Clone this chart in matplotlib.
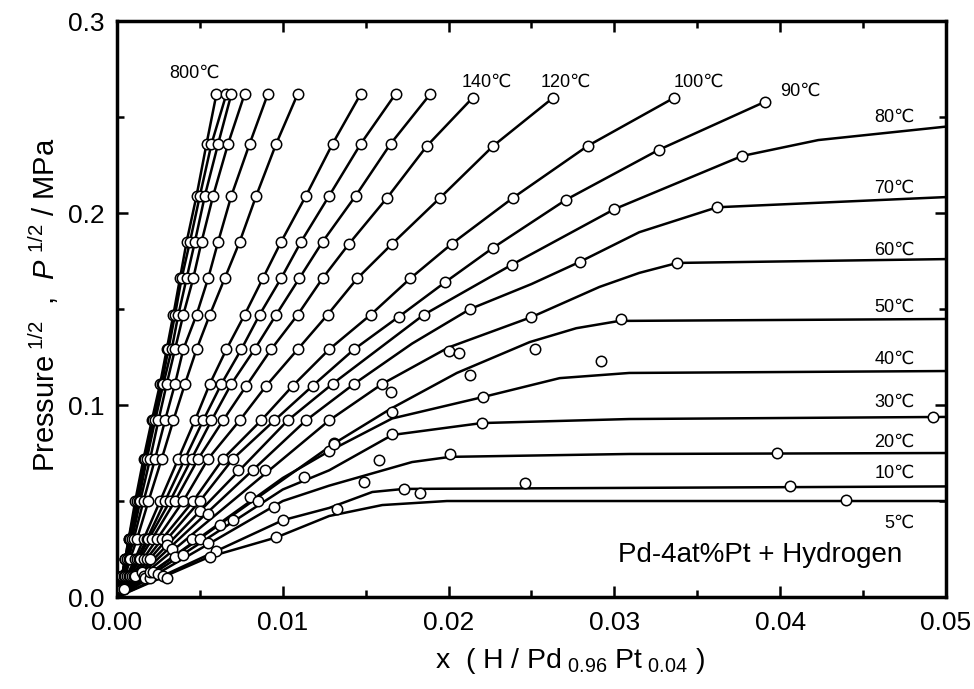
import matplotlib
matplotlib.use('Agg')
import matplotlib.pyplot as plt
from matplotlib.ticker import MultipleLocator

plt.rcParams.update({
    'font.family': ['Liberation Sans', 'DejaVu Sans'],
    'font.size': 20,
    'mathtext.fontset': 'custom',
    'mathtext.rm': 'Liberation Sans',
    'mathtext.it': 'Liberation Sans:italic',
    'mathtext.bf': 'Liberation Sans:bold',
})

# --- pressure steps shared by the high temperature runs ---
LEVELS_HI = [0.262, 0.236, 0.209, 0.185, 0.166, 0.147, 0.129, 0.111,
             0.092, 0.072, 0.050, 0.030, 0.020, 0.011, 0.004]
LEVELS_MID = [0.260, 0.235, 0.208, 0.184, 0.166, 0.147, 0.129, 0.110,
              0.092, 0.072, 0.050, 0.030, 0.020, 0.011, 0.004]
LEVELS_90 = [0.258, 0.233, 0.207, 0.182, 0.164, 0.146, 0.129, 0.110,
             0.092, 0.072, 0.050, 0.030, 0.020, 0.011, 0.004]

# x (H/M) at those steps, steep isotherms from 800C down to 90C
X_800 = [0.0060, 0.0054, 0.0048, 0.0042, 0.0038, 0.0034, 0.0030, 0.0026,
         0.0021, 0.0016, 0.0011, 0.0007, 0.0005, 0.0003, 0.0001]
X_T2 = [0.0066, 0.0057, 0.0050, 0.0044, 0.0039, 0.0035, 0.0031, 0.0027,
        0.0022, 0.0017, 0.0012, 0.0007, 0.0005, 0.0003, 0.0001]
X_T3 = [0.0069, 0.0061, 0.0053, 0.0047, 0.0042, 0.0037, 0.0033, 0.0028,
        0.0023, 0.0018, 0.0013, 0.0008, 0.0005, 0.0003, 0.0001]
X_T4 = [0.0077, 0.0067, 0.0058, 0.0051, 0.0046, 0.0040, 0.0035, 0.0030,
        0.0025, 0.0020, 0.0014, 0.0009, 0.0006, 0.0003, 0.0001]
X_T5 = [0.0091, 0.0080, 0.0069, 0.0061, 0.0055, 0.0048, 0.0040, 0.0035,
        0.0029, 0.0023, 0.0016, 0.0010, 0.0007, 0.0004, 0.0002]
X_T6 = [0.0109, 0.0096, 0.0084, 0.0074, 0.0065, 0.0056, 0.0048, 0.0041,
        0.0034, 0.0027, 0.0019, 0.0012, 0.0008, 0.0005, 0.0002]
X_T7 = [0.0147, 0.0130, 0.0114, 0.0099, 0.0088, 0.0077, 0.0066, 0.0056,
        0.0047, 0.0037, 0.0026, 0.0016, 0.0011, 0.0006, 0.0002]
X_T8 = [0.0168, 0.0147, 0.0128, 0.0111, 0.0099, 0.0086, 0.0075, 0.0063,
        0.0052, 0.0041, 0.0029, 0.0018, 0.0012, 0.0007, 0.0003]
X_T9 = [0.0189, 0.0165, 0.0144, 0.0124, 0.0110, 0.0096, 0.0083, 0.0069,
        0.0057, 0.0045, 0.0032, 0.0019, 0.0013, 0.0008, 0.0003]
X_140 = [0.02145, 0.0187, 0.0163, 0.0140, 0.0124, 0.0109, 0.0093, 0.0078,
         0.0064, 0.0049, 0.0035, 0.0021, 0.0014, 0.0008, 0.0003]
X_120 = [0.0263, 0.0227, 0.0195, 0.0166, 0.0145, 0.0127, 0.0109, 0.0090,
         0.0074, 0.0055, 0.0040, 0.0024, 0.0016, 0.0009, 0.0003]
X_100 = [0.0336, 0.0284, 0.0239, 0.0202, 0.0177, 0.0153, 0.0128, 0.0106,
         0.0087, 0.0064, 0.0046, 0.0027, 0.0018, 0.0010, 0.0004]
X_90 = [0.0391, 0.0327, 0.0271, 0.0227, 0.0198, 0.0170, 0.0143, 0.0118,
        0.0095, 0.0070, 0.0050, 0.0030, 0.0020, 0.0011, 0.0004]

# --- low temperature isotherms: drawn curve + measured points ---
LINE_80_X = [0, 0.0103, 0.0130, 0.0185, 0.0238, 0.0300, 0.0377, 0.0423, 0.050]
LINE_80_Y = [0, 0.092, 0.111, 0.147, 0.173, 0.202, 0.2297, 0.238, 0.245]
PTS_80_X = [0.0377, 0.0300, 0.0238, 0.0185, 0.0130, 0.0103, 0.0073, 0.0050, 0.0030, 0.0015]
PTS_80_Y = [0.2297, 0.202, 0.173, 0.147, 0.111, 0.092, 0.066, 0.045, 0.027, 0.013]

LINE_70_X = [0, 0.0114, 0.0143, 0.0178, 0.0213, 0.0250, 0.0279, 0.0315, 0.0362, 0.050]
LINE_70_Y = [0, 0.092, 0.111, 0.132, 0.150, 0.163, 0.1745, 0.190, 0.203, 0.2083]
PTS_70_X = [0.0362, 0.0279, 0.0213, 0.0143, 0.0114, 0.0082, 0.0055, 0.0033, 0.0016]
PTS_70_Y = [0.203, 0.1745, 0.150, 0.111, 0.092, 0.066, 0.043, 0.025, 0.011]

LINE_60_X = [0, 0.0128, 0.0160, 0.0200, 0.0250, 0.0291, 0.0315, 0.0338, 0.050]
LINE_60_Y = [0, 0.092, 0.111, 0.130, 0.1458, 0.1615, 0.1688, 0.174, 0.176]
PTS_60_X = [0.0338, 0.0250, 0.0200, 0.0160, 0.0128, 0.0089, 0.0062, 0.0035, 0.0017]
PTS_60_Y = [0.174, 0.1458, 0.128, 0.111, 0.092, 0.066, 0.0375, 0.021, 0.010]

LINE_50_X = [0, 0.0131, 0.0165, 0.0205, 0.0249, 0.0277, 0.0303, 0.050]
LINE_50_Y = [0, 0.080, 0.098, 0.1167, 0.1328, 0.140, 0.1438, 0.1448]
PTS_50_X = [0.0304, 0.0252, 0.0206, 0.0165, 0.0131, 0.0113, 0.0070, 0.0040, 0.0020]
PTS_50_Y = [0.1448, 0.129, 0.127, 0.107, 0.080, 0.0625, 0.040, 0.022, 0.010]

LINE_40_X = [0, 0.0100, 0.0128, 0.0166, 0.0220, 0.0267, 0.0309, 0.050]
LINE_40_Y = [0, 0.062, 0.076, 0.093, 0.104, 0.114, 0.1167, 0.1177]
PTS_40_X = [0.0292, 0.0213, 0.0221, 0.0166, 0.0128, 0.0080, 0.0045, 0.0020]
PTS_40_Y = [0.123, 0.1156, 0.104, 0.0964, 0.076, 0.052, 0.030, 0.013]

LINE_30_X = [0, 0.0100, 0.0128, 0.0166, 0.0220, 0.0309, 0.050]
LINE_30_Y = [0, 0.056, 0.066, 0.0844, 0.0906, 0.0927, 0.0938]
PTS_30_X = [0.0492, 0.0220, 0.0166, 0.0131, 0.0085, 0.0050, 0.0022]
PTS_30_Y = [0.0938, 0.0906, 0.085, 0.0797, 0.050, 0.030, 0.013]

LINE_20_X = [0, 0.0100, 0.0128, 0.0178, 0.0201, 0.0309, 0.050]
LINE_20_Y = [0, 0.050, 0.058, 0.0703, 0.073, 0.0745, 0.075]
PTS_20_X = [0.0398, 0.0201, 0.0158, 0.0149, 0.0095, 0.0055, 0.0025]
PTS_20_Y = [0.075, 0.0745, 0.0713, 0.060, 0.047, 0.028, 0.012]

LINE_10_X = [0, 0.0100, 0.0128, 0.0154, 0.0173, 0.050]
LINE_10_Y = [0, 0.040, 0.0464, 0.0547, 0.0563, 0.0576]
PTS_10_X = [0.0406, 0.0246, 0.0173, 0.0183, 0.0100, 0.0060, 0.0028]
PTS_10_Y = [0.0578, 0.0594, 0.0563, 0.0542, 0.040, 0.024, 0.011]

LINE_5_X = [0, 0.0056, 0.0096, 0.0128, 0.0160, 0.0199, 0.050]
LINE_5_Y = [0, 0.021, 0.031, 0.0422, 0.0479, 0.050, 0.050]
PTS_5_X = [0.0440, 0.0133, 0.0096, 0.0056, 0.0030]
PTS_5_Y = [0.0505, 0.046, 0.031, 0.021, 0.010]

# temperature labels and where they sit
LABELS = ['800℃', '140℃', '120℃', '100℃', '90℃', '80℃', '70℃', '60℃',
          '50℃', '40℃', '30℃', '20℃', '10℃', '5℃']
LABEL_X = [0.0047, 0.0223, 0.0271, 0.0351, 0.0412, 0.0469, 0.0469, 0.0469,
           0.0469, 0.0469, 0.0469, 0.0469, 0.0469, 0.0472]
LABEL_Y = [0.273, 0.268, 0.268, 0.268, 0.2635, 0.250, 0.213, 0.1807,
           0.151, 0.124, 0.1016, 0.0807, 0.0646, 0.0385]

LW = 1.8
MS = 7.5

fig = plt.figure(figsize=(9.74, 6.89), dpi=100)
ax = fig.add_axes([0.1201, 0.1335, 0.8511, 0.836])

hi_runs = [(X_800, LEVELS_HI), (X_T2, LEVELS_HI), (X_T3, LEVELS_HI),
           (X_T4, LEVELS_HI), (X_T5, LEVELS_HI), (X_T6, LEVELS_HI),
           (X_T7, LEVELS_HI), (X_T8, LEVELS_HI), (X_T9, LEVELS_HI),
           (X_140, LEVELS_MID), (X_120, LEVELS_MID), (X_100, LEVELS_MID),
           (X_90, LEVELS_90)]
for xs, ys in hi_runs:
    ax.plot([0] + xs[::-1], [0] + ys[::-1], color='black', lw=LW, zorder=2)
    ax.plot(xs, ys, 'o', ms=MS, mfc='white', mec='black', mew=1.1, zorder=3)

lo_runs = [(LINE_80_X, LINE_80_Y, PTS_80_X, PTS_80_Y),
           (LINE_70_X, LINE_70_Y, PTS_70_X, PTS_70_Y),
           (LINE_60_X, LINE_60_Y, PTS_60_X, PTS_60_Y),
           (LINE_50_X, LINE_50_Y, PTS_50_X, PTS_50_Y),
           (LINE_40_X, LINE_40_Y, PTS_40_X, PTS_40_Y),
           (LINE_30_X, LINE_30_Y, PTS_30_X, PTS_30_Y),
           (LINE_20_X, LINE_20_Y, PTS_20_X, PTS_20_Y),
           (LINE_10_X, LINE_10_Y, PTS_10_X, PTS_10_Y),
           (LINE_5_X, LINE_5_Y, PTS_5_X, PTS_5_Y)]
for lx, ly, px, py in lo_runs:
    ax.plot(lx, ly, color='black', lw=LW, zorder=2)
    ax.plot(px, py, 'o', ms=MS, mfc='white', mec='black', mew=1.1, zorder=3)

for lab, tx, ty in zip(LABELS, LABEL_X, LABEL_Y):
    ax.text(tx, ty, lab, fontsize=13, ha='center', va='center', zorder=4)

ax.text(0.0388, 0.0219, 'Pd-4at%Pt + Hydrogen', fontsize=20,
        ha='center', va='center')

ax.set_xlim(0, 0.05)
ax.set_ylim(0, 0.3)
ax.xaxis.set_major_locator(MultipleLocator(0.01))
ax.xaxis.set_minor_locator(MultipleLocator(0.005))
ax.yaxis.set_major_locator(MultipleLocator(0.1))
ax.yaxis.set_minor_locator(MultipleLocator(0.05))
ax.set_xticklabels([f"{v:.2f}" for v in ax.get_xticks()])
ax.set_yticklabels([f"{v:.1f}" for v in ax.get_yticks()])
ax.tick_params(which='both', direction='in', top=True, right=True)
ax.tick_params(which='major', length=8, width=1.8, labelsize=19)
ax.tick_params(axis='x', which='major', pad=10)
ax.tick_params(axis='y', which='major', pad=9)
ax.tick_params(which='minor', length=5, width=1.8)
for sp in ax.spines.values():
    sp.set_linewidth(2.5)

fig.text(0.585, 0.04, r'x  ( H / Pd$_{\ 0.96}$ Pt$_{\ 0.04}$ )',
         fontsize=20.5, ha='center', va='center')
fig.text(0.045, 0.557, r'Pressure$^{\ 1/2}$  ,  $P^{\ 1/2}$ / MPa',
         fontsize=21, ha='center', va='center', rotation=90)

fig.savefig('out.png', dpi=100)
